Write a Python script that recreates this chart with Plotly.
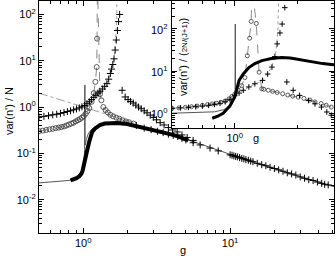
import plotly.graph_objects as go

# ---------------- main panel data ----------------
# dash-dot asymptote
asym_g = [0.5, 0.7, 1.0, 1.4, 2.0, 2.3]
asym_y = [2.0, 1.43, 1.0, 0.71, 0.50, 0.44]

# thin solid curve
thin_g = [0.5, 0.6, 0.7, 0.8, 0.88, 0.93, 0.97, 1.0, 1.015, 1.022, 1.026, 1.03, 1.05, 1.08, 1.12, 1.2,
          1.3, 1.5, 1.7, 2.0, 2.5, 3.3, 4.4, 5.6, 7.3, 10, 14, 20, 30, 40, 51]
thin_y = [0.023, 0.024, 0.025, 0.026, 0.028, 0.032, 0.040, 0.055, 0.08, 0.12, 3.0, 0.15, 0.2, 0.26,
          0.31, 0.37, 0.41, 0.45, 0.44, 0.43, 0.36, 0.29, 0.23, 0.18, 0.135, 0.093, 0.066, 0.047,
          0.031, 0.024, 0.019]

# thick band (dense markers)
band_g = [0.82, 0.86, 0.90, 0.94, 0.97, 0.99, 1.0, 1.02, 1.04, 1.065, 1.1, 1.15, 1.2, 1.3, 1.4,
          1.53, 1.7, 1.99, 2.3, 2.56, 3.0, 3.34, 3.9, 4.36, 5.18]
band_y = [0.026, 0.027, 0.029, 0.032, 0.036, 0.042, 0.05, 0.07, 0.09, 0.118, 0.18, 0.29, 0.34,
          0.41, 0.44, 0.45, 0.45, 0.43, 0.39, 0.35, 0.31, 0.29, 0.26, 0.236, 0.19]

# sparse + markers on the decaying branch
plus_g = [2.3, 2.6, 2.9, 3.2, 3.5, 3.8, 4.1, 4.4, 4.7, 5.0, 5.6, 6.25, 7.3, 8.3, 10.0, 10.3, 10.6,
          10.9, 11.2, 11.6, 12.0, 12.4, 12.8, 13.3, 13.8, 14.3, 15.3, 16.4, 17.5, 18.7, 20.0, 21.4,
          22.9, 24.5, 26.2, 28.0, 30.0, 32.1, 34.3, 36.7, 39.3, 42.0, 44.0, 46.5]
plus_y = [0.40, 0.35, 0.325, 0.30, 0.28, 0.26, 0.245, 0.23, 0.21, 0.195, 0.17, 0.152, 0.13, 0.113,
          0.093, 0.091, 0.088, 0.086, 0.084, 0.081, 0.078, 0.076, 0.073, 0.071, 0.068, 0.066, 0.061,
          0.057, 0.054, 0.050, 0.047, 0.044, 0.041, 0.038, 0.036, 0.034, 0.031, 0.029, 0.027, 0.026,
          0.024, 0.0225, 0.0215, 0.0208]

# circles (dashed) - left and right branch
circL_g = [0.50, 0.53, 0.56, 0.59, 0.62, 0.65, 0.68, 0.71, 0.74, 0.77, 0.80, 0.83, 0.86, 0.89, 0.92,
           0.95, 0.98, 1.01, 1.04, 1.07, 1.10, 1.14, 1.18, 1.21, 1.235, 1.243, 1.247]
circL_y = [0.30, 0.31, 0.32, 0.33, 0.34, 0.35, 0.36, 0.37, 0.38, 0.40, 0.42, 0.44, 0.46, 0.49, 0.52,
           0.55, 0.59, 0.64, 0.72, 0.82, 0.95, 1.3, 2.0, 3.5, 7.3, 30, 500]
circR_g = [1.25, 1.30, 1.33, 1.37, 1.42, 1.47, 1.53, 1.60, 1.68, 1.76, 1.85, 1.95, 2.05, 2.2]
circR_y = [500, 1.9, 1.4, 1.0, 0.86, 0.76, 0.68, 0.63, 0.59, 0.56, 0.52, 0.49, 0.47, 0.44]

# crosses (dotted) - left and right branch
crsL_g = [0.50, 0.54, 0.58, 0.62, 0.66, 0.70, 0.74, 0.78, 0.82, 0.86, 0.90, 0.94, 0.98, 1.02, 1.06,
          1.10, 1.14, 1.18, 1.22, 1.26, 1.30, 1.35, 1.40, 1.45, 1.49, 1.53, 1.56, 1.59, 1.62, 1.65,
          1.68, 1.71, 1.74, 1.77]
crsL_y = [0.61, 0.63, 0.65, 0.68, 0.70, 0.73, 0.76, 0.80, 0.83, 0.87, 0.91, 0.96, 1.01, 1.08, 1.18,
          1.30, 1.45, 1.62, 1.80, 2.0, 2.2, 2.45, 2.8, 3.2, 4.0, 5.3, 6.6, 8.3, 11, 17, 28, 45, 70, 100]
dotL_g = [0.50, 0.70, 0.90, 1.02, 1.14, 1.26, 1.40, 1.49, 1.56, 1.62, 1.66, 1.69, 1.70]
dotL_y = [0.61, 0.73, 0.91, 1.08, 1.45, 2.0, 2.8, 4.0, 6.6, 11, 25, 80, 500]
crsR_g = [1.84, 1.93, 2.02, 2.10, 2.19, 2.28, 2.38, 2.48, 2.60, 2.72, 2.86, 3.0, 3.15, 3.34, 3.55,
          3.8, 4.05, 4.36, 4.7, 5.1, 5.6]
crsR_y = [2.3, 1.65, 1.45, 1.32, 1.22, 1.10, 1.0, 0.92, 0.83, 0.75, 0.67, 0.60, 0.53, 0.46, 0.41,
          0.36, 0.32, 0.29, 0.25, 0.22, 0.19]

# ---------------- inset data ----------------
i_thin_g = [0.5, 0.6, 0.7, 0.8, 0.88, 0.94, 0.98, 1.0, 1.004, 1.007, 1.01, 1.02, 1.05, 1.1, 1.17,
            1.35, 1.68, 2.02, 2.44, 2.9, 3.0]
i_thin_y = [1.0, 1.02, 1.05, 1.08, 1.2, 1.4, 1.9, 2.4, 3.0, 130, 3.5, 4.2, 6.0, 9, 12, 17.7, 20.9,
            18.7, 15.9, 14.3, 14.0]
i_band_g = [0.78, 0.83, 0.88, 0.91, 0.95, 0.98, 1.0, 1.02, 1.05, 1.1, 1.17, 1.25, 1.35, 1.5, 1.68,
            1.85, 2.02, 2.2, 2.44, 2.65, 2.9, 3.0]
i_band_y = [0.76, 0.85, 1.0, 1.18, 1.5, 2.0, 2.4, 3.5, 6.0, 8.5, 12.1, 15, 17.7, 19.8, 20.9, 20.3,
            18.7, 17.2, 15.9, 15.0, 14.3, 14.0]
i_circL_g = [0.50, 0.54, 0.58, 0.62, 0.66, 0.70, 0.74, 0.78, 0.82, 0.86, 0.90, 0.94, 0.97, 1.0, 1.04,
             1.08, 1.12, 1.15, 1.18, 1.20, 1.21]
i_circL_y = [1.30, 1.34, 1.38, 1.43, 1.48, 1.54, 1.60, 1.66, 1.73, 1.82, 1.95, 2.2, 2.5, 2.8, 3.5,
             4.5, 7, 23, 60, 150, 800]
i_circR_g = [1.215, 1.27, 1.31, 1.35, 1.38, 1.45, 1.52, 1.6, 1.7, 1.8, 1.9, 2.02, 2.15, 2.3, 2.43,
             2.6, 2.75, 2.91]
i_circR_y = [800, 134, 9.4, 3.8, 3.7, 3.5, 3.3, 3.1, 2.9, 2.7, 2.55, 2.4, 2.25, 2.05, 1.86, 1.7,
             1.55, 1.4]
i_crsL_g = [0.50, 0.55, 0.60, 0.65, 0.70, 0.75, 0.80, 0.85, 0.90, 0.95, 1.0, 1.05, 1.10, 1.17, 1.25,
            1.36, 1.44, 1.51, 1.56, 1.60, 1.65, 1.69, 1.74]
i_crsL_y = [1.30, 1.34, 1.38, 1.43, 1.48, 1.54, 1.62, 1.72, 1.87, 2.1, 2.6, 3.0, 3.5, 4.2, 5.0, 6.0,
            8.5, 12.4, 22, 44, 80, 130, 318]
i_dot_g = [0.50, 0.80, 1.0, 1.17, 1.36, 1.51, 1.58, 1.61, 1.63]
i_dot_y = [1.30, 1.62, 2.6, 4.2, 6.0, 12.4, 30, 80, 800]
i_crsR_g = [1.78, 1.91, 2.05, 2.26, 2.43, 2.61, 2.77, 2.91]
i_crsR_y = [5.5, 3.5, 2.65, 2.0, 1.67, 1.4, 1.07, 0.9]

main_ytick_vals = [0.01, 0.1, 1, 10, 100]
main_ytick_text = ["10<sup>-2</sup>", "10<sup>-1</sup>", "10<sup>0</sup>", "10<sup>1</sup>", "10<sup>2</sup>"]
main_xtick_vals = [1, 10]
main_xtick_text = ["10<sup>0</sup>", "10<sup>1</sup>"]
ins_ytick_exps = [0, 1, 2]
ins_ytick_text = ["10<sup>0</sup>", "10<sup>1</sup>", "10<sup>2</sup>"]
ins_xtick_vals = [1]
ins_xtick_text = ["10<sup>0</sup>"]

FONT = "Liberation Sans, Arial, sans-serif"
GRAY = "#8a8a8a"

fig = go.Figure()


def add(xs, ys, ax, **kw):
    xa, ya = ax
    fig.add_trace(go.Scatter(x=xs, y=ys, xaxis=xa, yaxis=ya, showlegend=False, hoverinfo="skip", **kw))


M = ("x", "y")
I = ("x2", "y2")
PLUS = dict(symbol="cross-thin-open", size=5, color="black", line=dict(width=1, color="black"))
PLUS_S = dict(symbol="cross-thin-open", size=4, color="black", line=dict(width=1, color="black"))
CIRC = dict(symbol="circle-open", size=5, color="#333333", line=dict(width=0.8))
CIRC_S = dict(symbol="circle-open", size=4, color="#333333", line=dict(width=0.8))

# main panel
add(asym_g, asym_y, M, mode="lines", line=dict(color="#a0a0a0", width=1, dash="dashdot"))
add(thin_g, thin_y, M, mode="lines", line=dict(color="#555555", width=1))
add(dotL_g, dotL_y, M, mode="lines", line=dict(color="#a0a0a0", width=1, dash="dot"))
add(circL_g, circL_y, M, mode="lines+markers", line=dict(color=GRAY, width=1, dash="dash"), marker=CIRC)
add(circR_g, circR_y, M, mode="lines+markers", line=dict(color=GRAY, width=1, dash="dash"), marker=CIRC)
add(crsL_g, crsL_y, M, mode="markers", marker=PLUS)
add(crsR_g, crsR_y, M, mode="markers", marker=PLUS)
add(band_g, band_y, M, mode="lines", line=dict(color="black", width=4))
add(plus_g, plus_y, M, mode="markers", marker=PLUS)

# inset
add(i_thin_g, i_thin_y, I, mode="lines", line=dict(color="#555555", width=1))
add(i_dot_g, i_dot_y, I, mode="lines", line=dict(color="#a0a0a0", width=1, dash="dot"))
add(i_circL_g, i_circL_y, I, mode="lines+markers", line=dict(color=GRAY, width=1, dash="dash"), marker=CIRC_S)
add(i_circR_g, i_circR_y, I, mode="lines+markers", line=dict(color=GRAY, width=1, dash="dash"), marker=CIRC_S)
add(i_crsL_g, i_crsL_y, I, mode="markers", marker=PLUS_S)
add(i_crsR_g, i_crsR_y, I, mode="markers", marker=PLUS_S)
add(i_band_g, i_band_y, I, mode="lines", line=dict(color="black", width=3))


def minor_vals(lo_exp, hi_exp):
    return [m * 10 ** e for e in range(lo_exp, hi_exp + 1) for m in range(2, 10)]


axis_common = dict(type="log", showline=True, linecolor="black", linewidth=1, mirror="allticks",
                   ticks="inside", ticklen=5, tickcolor="black", showgrid=False, zeroline=False,
                   tickfont=dict(family=FONT, size=11, color="black"))

L, R, T, B = 39, 2, 1, 23
W, H = 336, 256
pw, ph = W - L - R, H - T - B
INSET_L, INSET_B = 172, 128

fig.update_layout(
    width=W, height=H, margin=dict(l=L, r=R, t=T, b=B),
    paper_bgcolor="white", plot_bgcolor="white",
    font=dict(family=FONT, size=11, color="black"),
    xaxis=dict(axis_common, range=[-0.301, 1.707], tickmode="array", tickvals=main_xtick_vals,
               ticktext=main_xtick_text,
               minor=dict(tickmode="array", tickvals=minor_vals(-1, 1), ticks="inside", ticklen=3,
                          tickcolor="black", showgrid=False)),
    yaxis=dict(axis_common, range=[-2.72, 2.29], tickmode="array", tickvals=main_ytick_vals,
               ticktext=main_ytick_text,
               minor=dict(tickmode="array", tickvals=minor_vals(-3, 2), ticks="inside", ticklen=3,
                          tickcolor="black", showgrid=False)),
    xaxis2=dict(axis_common, domain=[(INSET_L - L) / pw, 1], anchor="y2", range=[-0.301, 0.477],
                tickmode="array", tickvals=ins_xtick_vals, ticktext=ins_xtick_text,
                minor=dict(tickmode="array", tickvals=[0.5, 0.6, 0.7, 0.8, 0.9, 2, 3], ticks="inside",
                           ticklen=3, tickcolor="black", showgrid=False)),
    yaxis2=dict(axis_common, domain=[(H - B - INSET_B) / ph, 1], anchor="x2", range=[-0.35, 2.66],
                tickmode="array", tickvals=[10 ** e for e in ins_ytick_exps], showticklabels=False,
                minor=dict(tickmode="array", tickvals=minor_vals(-1, 2), ticks="inside", ticklen=3,
                           tickcolor="black", showgrid=False)),
)

ann = dict(showarrow=False, font=dict(family=FONT, size=11, color="black"))
# inset y tick labels, placed outside the inset box on its left
for e, t in zip(ins_ytick_exps, ins_ytick_text):
    fig.add_annotation(ann, xref="paper", yref="y2", x=(INSET_L - 2 - L) / pw, y=e, text=t,
                       xanchor="right", yanchor="middle")
fig.add_annotation(ann, xref="paper", yref="paper", x=(9 - L) / pw, y=(H - B - 111) / ph,
                   text="var(n') / N", textangle=-90, xanchor="center", yanchor="middle")
fig.add_annotation(ann, xref="paper", yref="paper", x=(183 - L) / pw, y=(H - B - 250) / ph,
                   text="g", xanchor="center", yanchor="middle")
fig.add_annotation(ann, xref="paper", yref="paper", x=(256 - L) / pw, y=(H - B - 138) / ph,
                   text="g", xanchor="center", yanchor="middle")
fig.add_annotation(ann, xref="paper", yref="paper", x=(183 - L) / pw, y=(H - B - 57) / ph,
                   text="var(n') / (<span style='font-size:8px'>2N/(J+1)</span>)", textangle=-90,
                   xanchor="center", yanchor="middle")

fig.write_html("out.html", config={"displayModeBar": False},
               post_script="document.body.style.margin='0';document.body.style.overflow='hidden';")
